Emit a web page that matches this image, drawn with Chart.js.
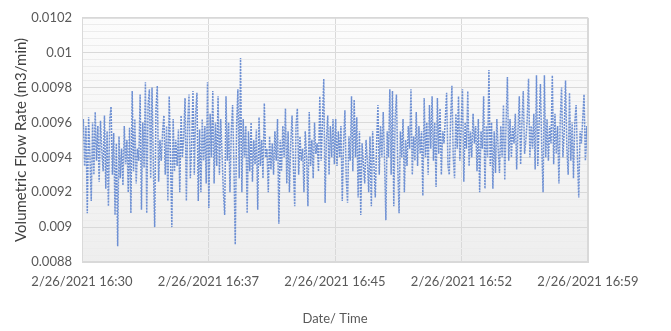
<!DOCTYPE html>
<html>
<head>
<meta charset="utf-8">
<script src="https://cdn.jsdelivr.net/npm/chart.js@4.4.1/dist/chart.umd.min.js"></script>
<style>
  html, body { margin: 0; padding: 0; background: #fff; }
  #wrap { width: 671px; height: 331px; }
</style>
</head>
<body>
<div id="wrap"><canvas id="flowChart" width="671" height="331"></canvas></div>
<script>
// ================= DATA =================
const timeLabels = [
  "2/26/2021 16:30", "2/26/2021 16:37", "2/26/2021 16:45",
  "2/26/2021 16:52", "2/26/2021 16:59"
];

const yMin = 0.0088;
const yMax = 0.0102;
const yMajorStep = 0.0002;

// volumetric flow rate (m3/min)
const flowRate = [
  0.00948, 0.00962, 0.00935, 0.00958, 0.00908, 0.00963, 0.00941, 0.00915, 0.00960, 0.00930, 0.00966, 0.00938,
  0.00958, 0.00926, 0.00961, 0.00944, 0.00932, 0.00964, 0.00922, 0.00955, 0.00912, 0.00962, 0.00969, 0.00930,
  0.00954, 0.00907, 0.00948, 0.00889, 0.00952, 0.00928, 0.00945, 0.00924, 0.00958, 0.00936, 0.00950, 0.00920,
  0.00957, 0.00908, 0.00978, 0.00932, 0.00962, 0.00925, 0.00945, 0.00938, 0.00976, 0.00910, 0.00960, 0.00934,
  0.00983, 0.00908, 0.00970, 0.00979, 0.00928, 0.00980, 0.00935, 0.00900, 0.00968, 0.00981, 0.00926, 0.00950,
  0.00938, 0.00955, 0.00964, 0.00930, 0.00958, 0.00915, 0.00975, 0.00940, 0.00900, 0.00962, 0.00932, 0.00950,
  0.00935, 0.00956, 0.00920, 0.00964, 0.00940, 0.00952, 0.00974, 0.00915, 0.00960, 0.00976, 0.00928, 0.00946,
  0.00978, 0.00930, 0.00965, 0.00977, 0.00915, 0.00956, 0.00920, 0.00962, 0.00938, 0.00958, 0.00925, 0.00983,
  0.00911, 0.00965, 0.00940, 0.00978, 0.00925, 0.00960, 0.00935, 0.00975, 0.00930, 0.00962, 0.00942, 0.00920,
  0.00907, 0.00975, 0.00938, 0.00960, 0.00920, 0.00955, 0.00970, 0.00935, 0.00890, 0.00958, 0.00979, 0.00928,
  0.00997, 0.00920, 0.00962, 0.00940, 0.00958, 0.00908, 0.00955, 0.00932, 0.00960, 0.00926, 0.00950, 0.00936,
  0.00956, 0.00910, 0.00963, 0.00935, 0.00950, 0.00928, 0.00971, 0.00940, 0.00945, 0.00920, 0.00952, 0.00933,
  0.00948, 0.00930, 0.00955, 0.00938, 0.00962, 0.00902, 0.00950, 0.00932, 0.00958, 0.00940, 0.00968, 0.00925,
  0.00955, 0.00920, 0.00948, 0.00964, 0.00935, 0.00912, 0.00958, 0.00968, 0.00930, 0.00952, 0.00938, 0.00945,
  0.00920, 0.00955, 0.00940, 0.00912, 0.00966, 0.00935, 0.00950, 0.00928, 0.00960, 0.00942, 0.00948, 0.00932,
  0.00975, 0.00938, 0.00960, 0.00985, 0.00914, 0.00950, 0.00964, 0.00930, 0.00958, 0.00940, 0.00962, 0.00936,
  0.00962, 0.00935, 0.00955, 0.00940, 0.00958, 0.00915, 0.00948, 0.00967, 0.00928, 0.00914, 0.00952, 0.00938,
  0.00975, 0.00932, 0.00973, 0.00940, 0.00963, 0.00917, 0.00955, 0.00907, 0.00948, 0.00936, 0.00925, 0.00950,
  0.00938, 0.00920, 0.00952, 0.00912, 0.00955, 0.00935, 0.00917, 0.00948, 0.00970, 0.00930, 0.00958, 0.00940,
  0.00966, 0.00938, 0.00904, 0.00955, 0.00940, 0.00979, 0.00930, 0.00978, 0.00912, 0.00962, 0.00976, 0.00935,
  0.00908, 0.00955, 0.00940, 0.00962, 0.00920, 0.00950, 0.00935, 0.00958, 0.00945, 0.00979, 0.00930, 0.00952,
  0.00938, 0.00966, 0.00935, 0.00958, 0.00942, 0.00955, 0.00918, 0.00974, 0.00940, 0.00960, 0.00930, 0.00970,
  0.00945, 0.00975, 0.00938, 0.00960, 0.00923, 0.00974, 0.00942, 0.00968, 0.00930, 0.00955, 0.00948, 0.00962,
  0.00977, 0.00935, 0.00930, 0.00962, 0.00981, 0.00940, 0.00928, 0.00965, 0.00945, 0.00975, 0.00938, 0.00958,
  0.00979, 0.00926, 0.00960, 0.00945, 0.00978, 0.00935, 0.00955, 0.00940, 0.00965, 0.00948, 0.00958, 0.00932,
  0.00962, 0.00920, 0.00955, 0.00945, 0.00975, 0.00922, 0.00958, 0.00940, 0.00990, 0.00935, 0.00960, 0.00922,
  0.00955, 0.00931, 0.00962, 0.00945, 0.00931, 0.00958, 0.00940, 0.00970, 0.00927, 0.00960, 0.00986, 0.00938,
  0.00962, 0.00940, 0.00958, 0.00948, 0.00965, 0.00933, 0.00955, 0.00975, 0.00936, 0.00960, 0.00978, 0.00942,
  0.00950, 0.00962, 0.00985, 0.00940, 0.00958, 0.00945, 0.00965, 0.00933, 0.00987, 0.00935, 0.00960, 0.00982,
  0.00945, 0.00920, 0.00987, 0.00940, 0.00962, 0.00938, 0.00958, 0.00948, 0.00987, 0.00936, 0.00965, 0.00942,
  0.00958, 0.00925, 0.00962, 0.00980, 0.00940, 0.00955, 0.00984, 0.00945, 0.00930, 0.00977, 0.00938, 0.00960,
  0.00928, 0.00960, 0.00970, 0.00940, 0.00917, 0.00955, 0.00948, 0.00962, 0.00976, 0.00938, 0.00958, 0.00934
];

// ================= PLOT BACKGROUND =================
const plotBackground = {
  id: "plotBackground",
  beforeDraw(chart) {
    const { ctx, chartArea: a } = chart;
    const g = ctx.createLinearGradient(0, a.top, 0, a.bottom);
    g.addColorStop(0, "#fcfcfc");
    g.addColorStop(1, "#eeeeee");
    ctx.save();
    ctx.fillStyle = g;
    ctx.fillRect(a.left, a.top, a.right - a.left, a.bottom - a.top);
    ctx.restore();
  },
  afterDatasetsDraw(chart) {
    const { ctx, chartArea: a } = chart;
    ctx.save();
    ctx.strokeStyle = "#d9d9d9";
    ctx.lineWidth = 1;
    ctx.strokeRect(a.left + 0.5, a.top + 0.5, a.right - a.left - 1, a.bottom - a.top - 1);
    ctx.restore();
  }
};

const fontFamily = "Lato, 'Open Sans', sans-serif";
const lastIndex = flowRate.length - 1;
const minorPerMajor = 5;

// ================= CHART =================
new Chart(document.getElementById("flowChart"), {
  type: "line",
  data: {
    datasets: [{
      label: "Volumetric Flow Rate",
      data: flowRate.map((v, i) => ({ x: i, y: v })),
      borderColor: "#6e90d3",
      borderWidth: 1.5,
      borderDash: [2, 1],
      pointRadius: 0,
      tension: 0,
      fill: false
    }]
  },
  options: {
    responsive: false,
    animation: false,
    layout: { padding: { left: 8, right: 83, top: 8, bottom: 0 } },
    plugins: {
      legend: { display: false },
      tooltip: { enabled: false }
    },
    scales: {
      x: {
        type: "linear",
        min: 0,
        max: lastIndex,
        afterBuildTicks(scale) {
          scale.ticks = timeLabels.map((_, i) => ({ value: i * lastIndex / (timeLabels.length - 1) }));
        },
        afterFit(scale) { scale.height = 69; },
        ticks: {
          autoSkip: false,
          maxRotation: 0,
          padding: 12,
          color: "#595959",
          font: { family: fontFamily, size: 13 },
          callback: (v, i) => timeLabels[i]
        },
        grid: { color: "#d9d9d9", drawTicks: false },
        border: { color: "#d9d9d9" },
        title: {
          display: true,
          text: "Date/ Time",
          color: "#595959",
          font: { family: fontFamily, size: 13 },
          padding: { top: 12 }
        }
      },
      y: {
        min: yMin,
        max: yMax,
        afterBuildTicks(scale) {
          const n = Math.round((yMax - yMin) / (yMajorStep / minorPerMajor));
          const t = [];
          for (let i = 0; i <= n; i++) {
            t.push({ value: yMin + i * (yMax - yMin) / n });
          }
          scale.ticks = t;
        },
        afterFit(scale) { scale.width = 74; },
        ticks: {
          autoSkip: false,
          padding: 10,
          color: "#595959",
          font: { family: fontFamily, size: 13 },
          callback: (v, i) => (i % minorPerMajor === 0 ? String(parseFloat(v.toFixed(5))) : "")
        },
        grid: {
          drawTicks: false,
          color: (c) => (c.index % minorPerMajor === 0 ? "#d9d9d9" : "#ececec")
        },
        border: { color: "#d9d9d9" },
        title: {
          display: true,
          text: "Volumetric Flow Rate (m3/min)",
          color: "#404040",
          font: { family: fontFamily, size: 15 },
          padding: { bottom: 4 }
        }
      }
    }
  },
  plugins: [plotBackground]
});
</script>
</body>
</html>
